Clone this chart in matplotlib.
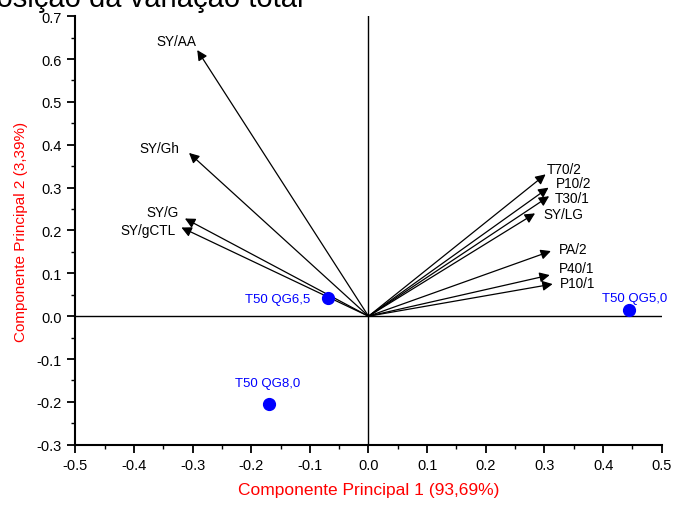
import matplotlib
matplotlib.use("Agg")
import matplotlib.pyplot as plt
from matplotlib.ticker import MultipleLocator, FormatStrFormatter

plt.rcParams['font.family'] = ['Liberation Sans', 'DejaVu Sans']
plt.rcParams['axes.unicode_minus'] = False

# Variable loadings (arrow tips)
var_names = ["SY/AA", "SY/Gh", "SY/G", "SY/gCTL",
             "T70/2", "P10/2", "T30/1", "SY/LG", "PA/2", "P40/1", "P10/1"]
var_pc1 = [-0.292, -0.306, -0.313, -0.319,
           0.302, 0.307, 0.308, 0.284, 0.311, 0.309, 0.314]
var_pc2 = [0.621, 0.381, 0.228, 0.207,
           0.331, 0.300, 0.280, 0.240, 0.152, 0.096, 0.075]

# Treatment scores
obs_names = ["T50 QG5,0", "T50 QG6,5", "T50 QG8,0"]
obs_pc1 = [0.445, -0.069, -0.170]
obs_pc2 = [0.014, 0.042, -0.205]

# label offsets in pixels from arrow tip / point
var_offsets = [(-21, 9), (-30, 5), (-22, 6), (-33, -3),
               (19, 5), (25, 5), (23, -2), (28, -1), (22, 2), (27, 7), (25, 1)]
obs_offsets = [(5, 12), (-50, -1), (-1, 21)]

fig = plt.figure(figsize=(6.78, 5.06), dpi=100)
ax = fig.add_axes([0.111, 0.119, 0.865, 0.847])

ax.set_xlim(-0.5, 0.5)
ax.set_ylim(-0.3, 0.7)

ax.axhline(0, color="black", lw=1.0, zorder=1)
ax.axvline(0, color="black", lw=1.0, zorder=1)

for name, x, y, off in zip(var_names, var_pc1, var_pc2, var_offsets):
    ax.annotate("", xy=(x, y), xytext=(0, 0),
                arrowprops=dict(arrowstyle="-|>", color="black", lw=0.9,
                                mutation_scale=15, shrinkA=0, shrinkB=0))
    ax.annotate(name, xy=(x, y), xytext=off, textcoords="offset pixels",
                ha="center", va="center", fontsize=9.8, color="black")

ax.plot(obs_pc1, obs_pc2, "o", color="blue", ms=8.5, zorder=3)
for name, x, y, off in zip(obs_names, obs_pc1, obs_pc2, obs_offsets):
    ax.annotate(name, xy=(x, y), xytext=off, textcoords="offset pixels",
                ha="center", va="center", fontsize=9.5, color="blue")

for s in ["top", "right"]:
    ax.spines[s].set_visible(False)
for s in ["left", "bottom"]:
    ax.spines[s].set_linewidth(1.5)

ax.xaxis.set_major_locator(MultipleLocator(0.1))
ax.xaxis.set_minor_locator(MultipleLocator(0.05))
ax.yaxis.set_major_locator(MultipleLocator(0.1))
ax.yaxis.set_minor_locator(MultipleLocator(0.05))
ax.xaxis.set_major_formatter(FormatStrFormatter("%.1f"))
ax.yaxis.set_major_formatter(FormatStrFormatter("%.1f"))
ax.tick_params(which="major", direction="out", length=6, width=1.3, labelsize=10.5)
ax.tick_params(which="minor", direction="out", length=3, width=1.0)

ax.set_xlabel("Componente Principal 1 (93,69%)", color="red", fontsize=12.5, labelpad=7)
ax.set_ylabel("Componente Principal 2 (3,39%)", color="red", fontsize=11, labelpad=6)

# title partly cut off at the top edge, as in the source image
fig.text(303 / 678, 1 - 7 / 506, "Decomposição da variação total",
         ha="right", va="baseline", fontsize=21, color="black")

fig.savefig("out.png", dpi=100)
